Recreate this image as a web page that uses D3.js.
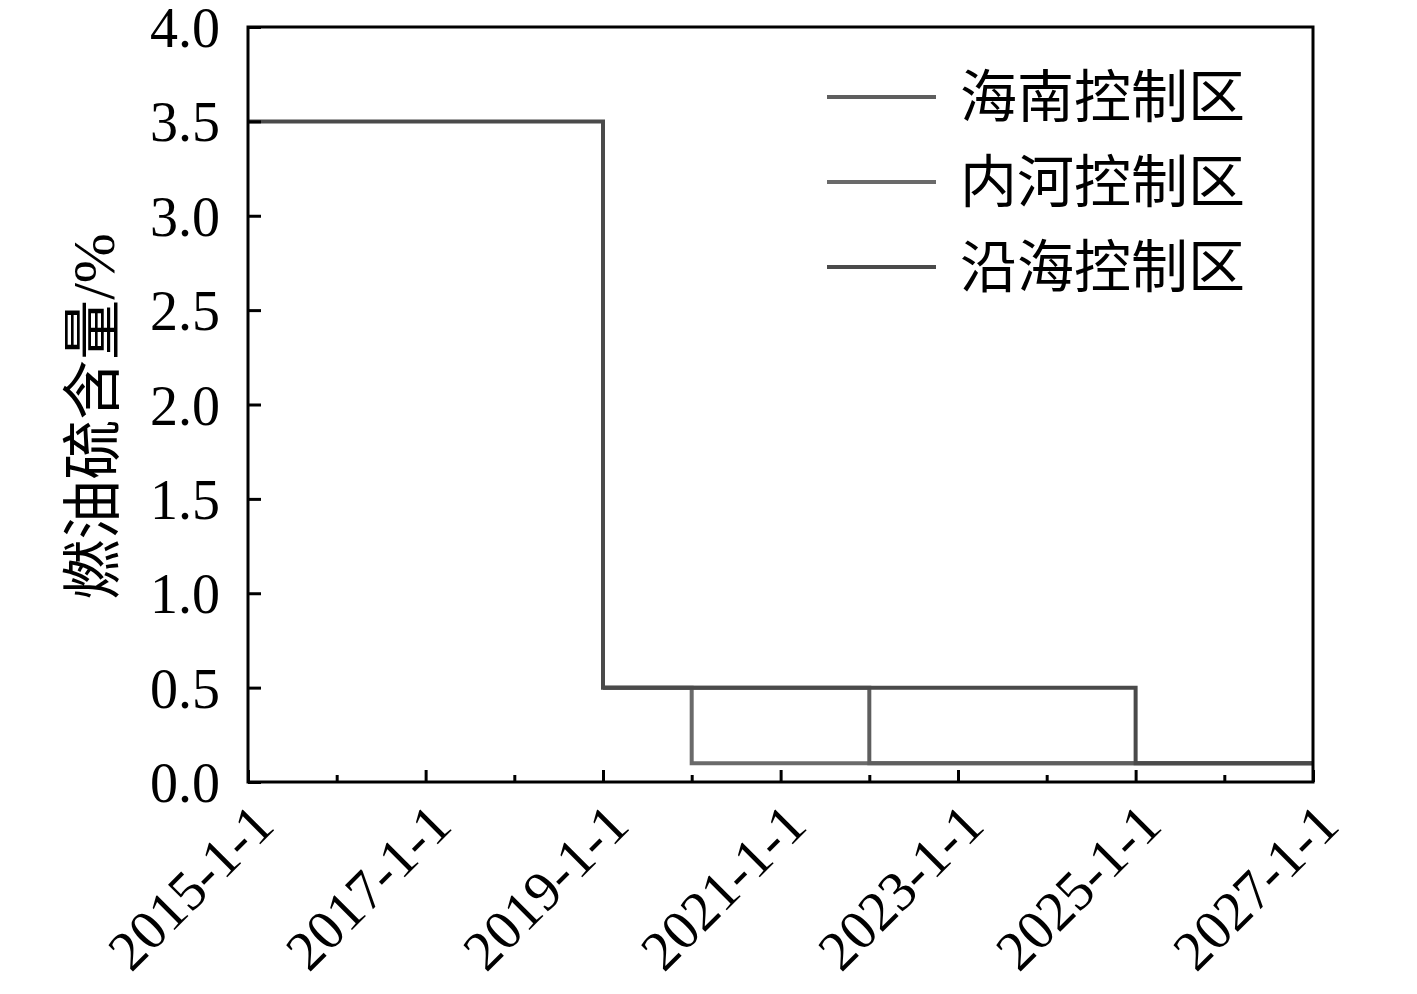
<!DOCTYPE html>
<html>
<head>
<meta charset="utf-8">
<script src="https://cdn.jsdelivr.net/npm/d3@7"></script>
<style>
  body { margin: 0; background: #fff; }
  text { font-family: "Liberation Serif", "Noto Sans CJK SC", serif; fill: #000; }
</style>
</head>
<body>
<svg id="chart" width="1417" height="994"></svg>
<script>
// data
var seriesNames = ["海南控制区", "内河控制区", "沿海控制区"];
var hainanDates = ["2019-01-01", "2022-01-01", "2027-01-01"];
var hainanValues = [0.5, 0.1, 0.1];
var inlandDates = ["2019-01-01", "2020-01-01", "2027-01-01"];
var inlandValues = [0.5, 0.1, 0.1];
var coastalDates = ["2015-01-01", "2019-01-01", "2025-01-01", "2027-01-01"];
var coastalValues = [3.5, 0.5, 0.1, 0.1];
var xTickLabels = ["2015-1-1", "2017-1-1", "2019-1-1", "2021-1-1", "2023-1-1", "2025-1-1", "2027-1-1"];
var xMinorLabels = ["2016-1-1", "2018-1-1", "2020-1-1", "2022-1-1", "2024-1-1", "2026-1-1"];
var yTicks = [0, 0.5, 1.0, 1.5, 2.0, 2.5, 3.0, 3.5, 4.0];
var yLabel = "燃油硫含量/%";

var colors = ["#5e5e5e", "#6a6a6a", "#4a4a4a"];

var margin = {top: 27, right: 104, bottom: 212, left: 248};
var W = 1417, H = 994;
var w = W - margin.left - margin.right, h = H - margin.top - margin.bottom;

var parse = d3.timeParse("%Y-%m-%d");
var parseTick = d3.timeParse("%Y-%m-%d");
var svg = d3.select("#chart");
var g = svg.append("g").attr("transform", "translate(" + margin.left + "," + margin.top + ")");

var majorDates = xTickLabels.map(function(s) { return parseTick(s); });
var minorDates = xMinorLabels.map(function(s) { return parseTick(s); });

var x = d3.scaleTime().domain([majorDates[0], majorDates[majorDates.length - 1]]).range([0, w]);
var y = d3.scaleLinear().domain([0, 4]).range([h, 0]);

function toPoints(dates, values) {
  return dates.map(function(d, i) { return {date: parse(d), value: values[i]}; });
}
var series = [
  toPoints(hainanDates, hainanValues),
  toPoints(inlandDates, inlandValues),
  toPoints(coastalDates, coastalValues)
];

var line = d3.line()
  .x(function(d) { return x(d.date); })
  .y(function(d) { return y(d.value); })
  .curve(d3.curveStepAfter);

// draw inland first, then hainan, coastal on top
[1, 0, 2].forEach(function(i) {
  g.append("path")
    .datum(series[i])
    .attr("d", line)
    .attr("fill", "none")
    .attr("stroke", colors[i])
    .attr("stroke-width", 4);
});

// frame
g.append("rect")
  .attr("x", 0).attr("y", 0).attr("width", w).attr("height", h)
  .attr("fill", "none").attr("stroke", "#000").attr("stroke-width", 3);

// y axis, ticks inward
var yAxis = g.append("g")
  .call(d3.axisLeft(y).tickValues(yTicks).tickSize(-13).tickFormat(d3.format(".1f")).tickPadding(28));
yAxis.select(".domain").remove();
yAxis.selectAll("line").attr("stroke", "#000").attr("stroke-width", 3);
yAxis.selectAll("text").attr("font-size", 56).attr("dy", "0.35em")
  .style("font-family", "'Liberation Serif', serif");

// x axis minor ticks
var xMinor = g.append("g").attr("transform", "translate(0," + h + ")")
  .call(d3.axisBottom(x).tickValues(minorDates).tickSize(-7).tickFormat(""));
xMinor.select(".domain").remove();
xMinor.selectAll("line").attr("stroke", "#000").attr("stroke-width", 3);

// x axis major ticks
var xMajor = g.append("g").attr("transform", "translate(0," + h + ")")
  .call(d3.axisBottom(x).tickValues(majorDates).tickSize(-12)
    .tickFormat(function(d, i) { return xTickLabels[i]; }));
xMajor.select(".domain").remove();
xMajor.selectAll("line").attr("stroke", "#000").attr("stroke-width", 3);
xMajor.selectAll("text")
  .attr("font-size", 56)
  .attr("text-anchor", "end")
  .attr("y", 0).attr("dy", 0)
  .attr("transform", "translate(28,46) rotate(-45)")
  .style("font-family", "'Liberation Serif', serif");

// y label
svg.append("text")
  .attr("transform", "translate(114," + (margin.top + h / 2 + 12) + ") rotate(-90)")
  .attr("text-anchor", "middle")
  .attr("font-size", 60)
  .text(yLabel);

// legend
var legend = svg.append("g");
seriesNames.forEach(function(name, i) {
  var ly = 97 + i * 85;
  legend.append("line")
    .attr("x1", 827).attr("x2", 936).attr("y1", ly).attr("y2", ly)
    .attr("stroke", colors[i]).attr("stroke-width", 4);
  legend.append("text")
    .attr("x", 960).attr("y", ly).attr("dy", "0.35em")
    .attr("font-size", 57)
    .text(name);
});
</script>
</body>
</html>
